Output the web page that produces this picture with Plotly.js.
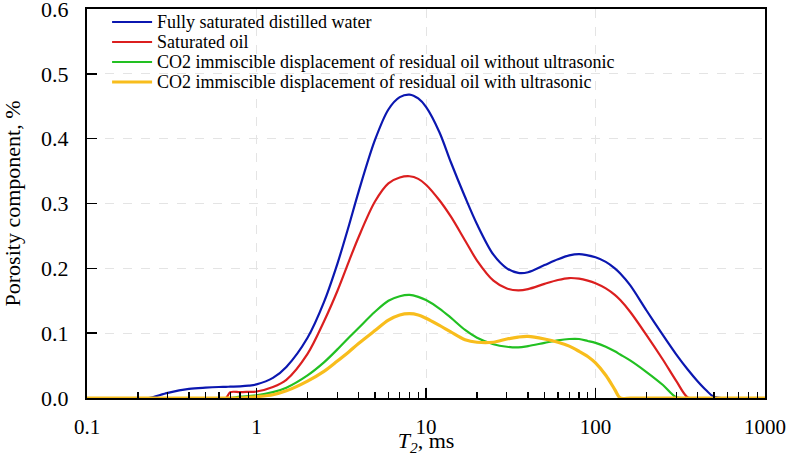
<!DOCTYPE html>
<html>
<head>
<meta charset="utf-8">
<script src="https://cdn.plot.ly/plotly-3.0.1.min.js"></script>
<style>html,body{margin:0;padding:0;background:#fff;}#chart{width:787px;height:456px;}</style>
</head>
<body>
<div id="chart"></div>
<script>
// T2 relaxation time, ms
const t2 = [0.1, 0.2, 0.23, 0.3, 0.4, 0.5, 0.6, 0.66, 0.7, 0.8, 0.9, 1, 1.25, 1.5, 2, 2.5, 3, 3.5, 4, 5, 6, 7, 8, 9, 10, 12, 14, 17, 20, 25, 30, 35, 40, 50, 60, 70, 80, 90, 100, 115, 130, 140, 160, 200, 250, 300, 350, 400, 450, 500, 1000];

const waterSat = [0, 0, 0, 0.008, 0.014, 0.016, 0.017, 0.0172, 0.0175, 0.018, 0.019, 0.021, 0.031, 0.048, 0.093, 0.148, 0.207, 0.265, 0.318, 0.398, 0.445, 0.464, 0.468, 0.462, 0.449, 0.410, 0.364, 0.310, 0.268, 0.221, 0.200, 0.193, 0.194, 0.205, 0.214, 0.220, 0.222, 0.220, 0.217, 0.210, 0.200, 0.192, 0.174, 0.135, 0.097, 0.067, 0.044, 0.026, 0.012, 0.002, 0];

const oilSat = [0, 0, 0, 0, 0, 0, 0, 0, 0.009, 0.009, 0.0095, 0.010, 0.017, 0.028, 0.068, 0.118, 0.165, 0.210, 0.248, 0.303, 0.331, 0.340, 0.342, 0.338, 0.329, 0.305, 0.280, 0.243, 0.212, 0.181, 0.169, 0.166, 0.168, 0.176, 0.182, 0.185, 0.184, 0.181, 0.177, 0.169, 0.159, 0.151, 0.133, 0.097, 0.059, 0.026, 0.001, 0, 0, 0, 0];

const co2NoUltra = [0, 0, 0, 0, 0, 0, 0, 0, 0, 0.002, 0.003, 0.004, 0.009, 0.016, 0.035, 0.055, 0.075, 0.093, 0.108, 0.133, 0.150, 0.157, 0.159, 0.156, 0.151, 0.138, 0.124, 0.105, 0.093, 0.083, 0.079, 0.078, 0.080, 0.085, 0.089, 0.091, 0.091, 0.088, 0.085, 0.079, 0.072, 0.067, 0.058, 0.040, 0.020, 0.001, 0, 0, 0, 0, 0];

const co2Ultra = [0, 0, 0, 0, 0, 0, 0, 0, 0, 0, 0.001, 0.002, 0.005, 0.011, 0.026, 0.041, 0.057, 0.071, 0.084, 0.104, 0.120, 0.128, 0.130, 0.128, 0.123, 0.112, 0.102, 0.090, 0.086, 0.086, 0.091, 0.094, 0.095, 0.091, 0.086, 0.080, 0.072, 0.064, 0.054, 0.035, 0.013, 0, 0, 0, 0, 0, 0, 0, 0, 0, 0];

const seriesNames = [
  "Fully saturated distilled water",
  "Saturated oil",
  "CO2 immiscible displacement of residual oil without ultrasonic",
  "CO2 immiscible displacement of residual oil with ultrasonic"
];
const seriesData = [waterSat, oilSat, co2NoUltra, co2Ultra];
const seriesColors = ["#0b17b0", "#db1f1f", "#22c022", "#f8bd1c"];
const seriesWidths = [2.2, 2.2, 2.2, 3.2];

const xTickVals = [0.1, 1, 10, 100, 1000];
const xTickText = ["0.1", "1", "10", "100", "1000"];
const yTickVals = [0, 0.1, 0.2, 0.3, 0.4, 0.5, 0.6];
const yTickText = ["0.0", "0.1", "0.2", "0.3", "0.4", "0.5", "0.6"];

const FONT = "Liberation Serif";

const traces = seriesData.map((ys, i) => ({
  x: t2, y: ys, type: "scatter", mode: "lines", name: seriesNames[i],
  line: {color: seriesColors[i], width: seriesWidths[i], shape: "spline", smoothing: 0.9},
  showlegend: false, hoverinfo: "skip"
}));

// manual legend (tight line spacing like the original)
const legX0 = 0.037, legX1 = 0.096, legTextX = 0.101;
const legRows = [0.9666, 0.9152, 0.8638, 0.8123];
const shapes = seriesNames.map((n, i) => ({
  type: "line", xref: "paper", yref: "paper",
  x0: legX0, x1: legX1, y0: legRows[i], y1: legRows[i],
  line: {color: seriesColors[i], width: seriesWidths[i]}
}));
const annotations = seriesNames.map((n, i) => ({
  xref: "paper", yref: "paper", x: legTextX, y: legRows[i],
  xanchor: "left", yanchor: "middle", showarrow: false, text: n,
  font: {family: FONT, size: 18, color: "#000"}
}));

const layout = {
  width: 787, height: 456,
  margin: {l: 87, r: 22, t: 9, b: 58},
  paper_bgcolor: "#fff", plot_bgcolor: "#fff",
  font: {family: FONT, color: "#000"},
  showlegend: false,
  xaxis: {
    type: "log", range: [-1, 3],
    tickmode: "array", tickvals: xTickVals, ticktext: xTickText,
    ticks: "inside", ticklen: 10, tickwidth: 1.5, tickcolor: "#000",
    minor: {ticks: "inside", ticklen: 6, tickwidth: 1.2, tickcolor: "#000", dtick: "D1", showgrid: false},
    showline: true, linecolor: "#000", linewidth: 2, mirror: true,
    showgrid: true, gridcolor: "#e4e4e4", griddash: "dash", gridwidth: 1,
    zeroline: false,
    tickfont: {family: FONT, size: 21, color: "#000"},
    ticklabelstandoff: 9, ticklabeloverflow: "allow",
    title: {text: "<i>T</i><sub><i>2</i></sub>, ms", font: {family: FONT, size: 22, color: "#000"}, standoff: 0},
    automargin: false
  },
  yaxis: {
    range: [0, 0.6],
    tickmode: "array", tickvals: yTickVals, ticktext: yTickText,
    ticks: "inside", ticklen: 10, tickwidth: 1.5, tickcolor: "#000",
    showline: true, linecolor: "#000", linewidth: 2, mirror: true,
    showgrid: true, gridcolor: "#e4e4e4", griddash: "dash", gridwidth: 1,
    zeroline: false,
    tickfont: {family: FONT, size: 22, color: "#000"},
    ticklabelstandoff: 12, ticklabeloverflow: "allow",
    title: {text: "Porosity component, %", font: {family: FONT, size: 22, color: "#000"}, standoff: 17},
    automargin: false
  },
  shapes: shapes,
  annotations: annotations
};

Plotly.newPlot("chart", traces, layout, {displayModeBar: false, staticPlot: true});
</script>
</body>
</html>
